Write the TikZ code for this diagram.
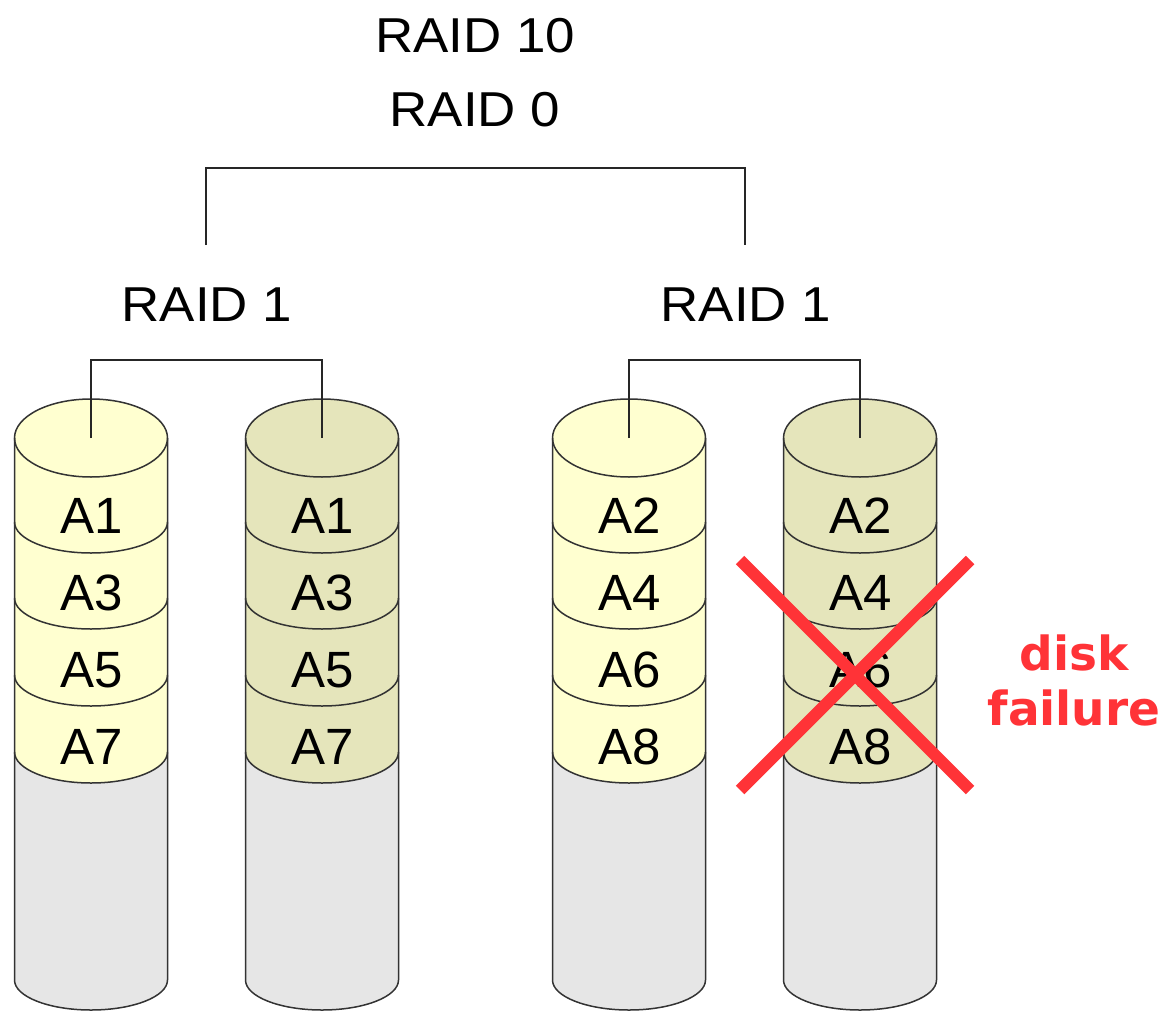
\documentclass[tikz,border=0pt]{standalone}
\usepackage{fontspec}
\setmainfont{Liberation Sans}
\newfontfamily\widesans{Liberation Sans}[FakeStretch=1.08]
\newfontfamily\boldlabel{DejaVu Sans}[BoldFont={DejaVu Sans Bold}]
\begin{document}
\begin{tikzpicture}[x=1pt,y=-1pt,
  lbl/.style={inner sep=0pt, font=\widesans\fontsize{49}{49}\selectfont, anchor=center},
  blk/.style={inner sep=0pt, font=\fontsize{51}{51}\selectfont, anchor=center},
  wire/.style={line width=1.3pt, black!85},
  rim/.style={line width=1.5pt, black!80},
  failmark/.style={line width=12pt, draw=failred},
]
\definecolor{paleA}{RGB}{255,255,208}
\definecolor{paleB}{RGB}{229,229,187}
\definecolor{emptygrey}{RGB}{230,230,230}
\definecolor{failred}{RGB}{255,51,55}
\useasboundingbox (0,0) rectangle (1166,1011);

% one disk drawn as a stacked cylinder: #1 centre x, #2 fill colour, #3 name
\newcommand{\disk}[3]{%
  \def\cx{#1}\def\rx{76.5}%
  \fill[emptygrey] (\cx-\rx,752) -- (\cx-\rx,980)
     arc[start angle=180,end angle=0,x radius=\rx,y radius=30] -- (\cx+\rx,752) -- cycle;
  \fill[#2] (\cx-\rx,438) -- (\cx-\rx,752)
     arc[start angle=180,end angle=0,x radius=\rx,y radius=31] -- (\cx+\rx,438)
     arc[start angle=0,end angle=-180,x radius=\rx,y radius=39] -- cycle;
  \draw[rim] (\cx-\rx,438) -- (\cx-\rx,980)
     arc[start angle=180,end angle=0,x radius=\rx,y radius=30] -- (\cx+\rx,438);
  \draw[rim] (\cx,438) ellipse[x radius=\rx,y radius=39];
  \foreach \s in {522,598,675,752}
    \draw[rim] (\cx-\rx,\s) arc[start angle=180,end angle=0,x radius=\rx,y radius=31];
  \coordinate (#3) at (\cx,438);
}

\disk{91}{paleA}{d1}
\disk{322}{paleB}{d2}
\disk{629}{paleA}{d3}
\disk{860}{paleB}{d4}

% block labels
\foreach \n/\t [count=\i] in {1/A1,3/A3,5/A5,7/A7}
  \node[blk] (a\n) at (92,439+77*\i) {\t};
\foreach \n/\t [count=\i] in {1/A1,3/A3,5/A5,7/A7}
  \node[blk] (b\n) at (323,439+77*\i) {\t};
\foreach \n/\t [count=\i] in {2/A2,4/A4,6/A6,8/A8}
  \node[blk] (c\n) at (630,439+77*\i) {\t};
\foreach \n/\t [count=\i] in {2/A2,4/A4,6/A6,8/A8}
  \node[blk] (e\n) at (861,439+77*\i) {\t};

% array labels
\node[lbl] (raid10) at (475,36) {RAID 10};
\node[lbl] (raid0) at (475,110) {RAID 0};
\node[lbl] (raid1l) at (207,305) {RAID 1};
\node[lbl] (raid1r) at (746,305) {RAID 1};

% stripe bracket
\coordinate (stripe) at (475,168);
\coordinate (g1) at (206,245);
\coordinate (g2) at (745,245);
\draw[wire] (g1) |- (stripe) -| (g2);

% mirror brackets
\coordinate (m1) at (206,360);
\coordinate (m2) at (745,360);
\draw[wire] (d1) |- (m1) -| (d2);
\draw[wire] (d3) |- (m2) -| (d4);

% failed disk
\coordinate (x1) at (740,560);
\coordinate (x2) at (970,790);
\coordinate (x3) at (970,560);
\coordinate (x4) at (740,790);
\draw[failmark] (x1) -- (x2);
\draw[failmark] (x3) -- (x4);
\node[inner sep=0pt, align=center, text=failred,
      font=\boldlabel\bfseries\fontsize{47}{55}\selectfont] (fail) at (1074,680) {disk\\failure};
\end{tikzpicture}
\end{document}
